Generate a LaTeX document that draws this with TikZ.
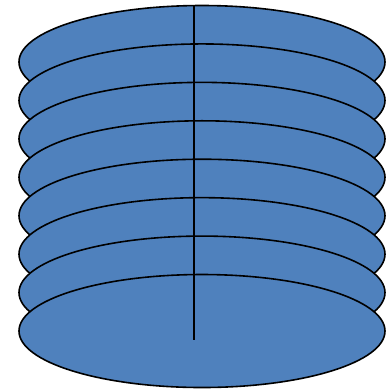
\documentclass[tikz,border=0pt]{standalone}
\usetikzlibrary{shapes.geometric}
\definecolor{diskblue}{HTML}{4F81BD}
\begin{document}
\begin{tikzpicture}[x=1pt,y=-1pt,
  disk/.style={ellipse,draw=black,line width=1.6pt,fill=diskblue,minimum width=366pt,minimum height=113pt,inner sep=0pt},
  axis/.style={draw=black,line width=1.6pt}]
\useasboundingbox (0,0) rectangle (392,392);
\foreach \i in {0,...,7}{
  \node[disk] (d\i) at (202,{62+38.43*\i}) {};
}
\coordinate (top) at (194,5);
\coordinate (bot) at (194,340);
\draw[axis] (top) -- (bot);
\end{tikzpicture}
\end{document}
